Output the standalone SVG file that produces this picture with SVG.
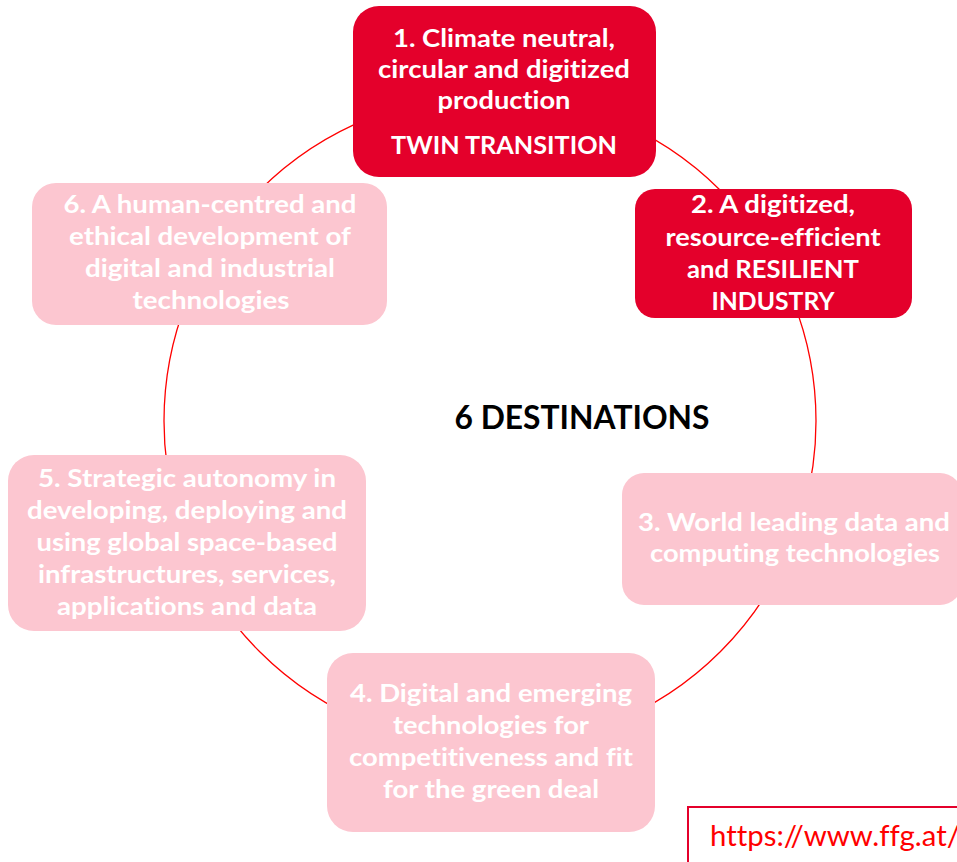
<svg xmlns="http://www.w3.org/2000/svg" width="957" height="862" viewBox="0 0 957 862">
<style>
.dark{fill:#E4002B}
.light{fill:#FCC6D0}
.t{font-family:Lato,"Open Sans","Liberation Sans",sans-serif;font-weight:bold;font-size:25px;fill:#FFFFFF;text-anchor:middle;font-variant-ligatures:none}
.title{font-family:Lato,"Open Sans","Liberation Sans",sans-serif;font-weight:bold;font-size:33px;fill:#000000;text-anchor:middle}
.url{font-family:Lato,"Open Sans","Liberation Sans",sans-serif;font-size:28px;fill:#FF0000;font-variant-ligatures:none}
.ring{fill:none;stroke:#FF0000;stroke-width:1.3}
</style>
<rect width="957" height="862" fill="#FFFFFF"/>
<g id="connectors">
<circle class="ring" cx="490" cy="421" r="326"/>
</g>
<g id="node1">
<rect class="dark" x="353" y="6" width="303" height="171" rx="26"/>
<text class="t" x="504" y="47" textLength="222" lengthAdjust="spacingAndGlyphs">1. Climate neutral,</text>
<text class="t" x="504" y="78" textLength="252" lengthAdjust="spacingAndGlyphs">circular and digitized</text>
<text class="t" x="504" y="109" textLength="133" lengthAdjust="spacingAndGlyphs">production</text>
<text class="t" x="504" y="154" textLength="226" lengthAdjust="spacingAndGlyphs">TWIN TRANSITION</text>
</g>
<g id="node2">
<rect class="dark" x="635" y="189" width="277" height="129" rx="20"/>
<text class="t" x="773" y="213" textLength="164" lengthAdjust="spacingAndGlyphs">2. A digitized,</text>
<text class="t" x="773" y="246" textLength="215" lengthAdjust="spacingAndGlyphs">resource-efficient</text>
<text class="t" x="773" y="278" textLength="172" lengthAdjust="spacingAndGlyphs">and RESILIENT</text>
<text class="t" x="773" y="310" textLength="123" lengthAdjust="spacingAndGlyphs">INDUSTRY</text>
</g>
<g id="node3">
<rect class="light" x="622" y="473" width="340" height="132" rx="22"/>
<text class="t" x="794" y="531" textLength="312" lengthAdjust="spacingAndGlyphs">3. World leading data and</text>
<text class="t" x="795" y="562" textLength="290" lengthAdjust="spacingAndGlyphs">computing technologies</text>
</g>
<g id="node4">
<rect class="light" x="327" y="653" width="328" height="179" rx="26"/>
<text class="t" x="491" y="702" textLength="282" lengthAdjust="spacingAndGlyphs">4. Digital and emerging</text>
<text class="t" x="491" y="734" textLength="196" lengthAdjust="spacingAndGlyphs">technologies for</text>
<text class="t" x="491" y="766" textLength="284" lengthAdjust="spacingAndGlyphs">competitiveness and fit</text>
<text class="t" x="491" y="798" textLength="216" lengthAdjust="spacingAndGlyphs">for the green deal</text>
</g>
<g id="node5">
<rect class="light" x="8" y="455" width="358" height="176" rx="26"/>
<text class="t" x="187" y="487" textLength="298" lengthAdjust="spacingAndGlyphs">5. Strategic autonomy in</text>
<text class="t" x="187" y="519" textLength="320" lengthAdjust="spacingAndGlyphs">developing, deploying and</text>
<text class="t" x="187" y="551" textLength="301" lengthAdjust="spacingAndGlyphs">using global space-based</text>
<text class="t" x="187" y="583" textLength="298" lengthAdjust="spacingAndGlyphs">infrastructures, services,</text>
<text class="t" x="187" y="615" textLength="260" lengthAdjust="spacingAndGlyphs">applications and data</text>
</g>
<g id="node6">
<rect class="light" x="32" y="183" width="355" height="142" rx="24"/>
<text class="t" x="210" y="213" textLength="293" lengthAdjust="spacingAndGlyphs">6. A human-centred and</text>
<text class="t" x="210" y="245" textLength="282" lengthAdjust="spacingAndGlyphs">ethical development of</text>
<text class="t" x="210" y="277" textLength="250" lengthAdjust="spacingAndGlyphs">digital and industrial</text>
<text class="t" x="211" y="309" textLength="157" lengthAdjust="spacingAndGlyphs">technologies</text>
</g>
<g id="title">
<text class="title" x="582" y="429" textLength="255" lengthAdjust="spacingAndGlyphs">6 DESTINATIONS</text>
</g>
<g id="url">
<rect x="688" y="807" width="290" height="80" fill="#FFFFFF" stroke="#E4002B" stroke-width="2"/>
<text class="url" x="710" y="846" textLength="250" lengthAdjust="spacingAndGlyphs">https://www.ffg.at/</text>
</g>
</svg>
